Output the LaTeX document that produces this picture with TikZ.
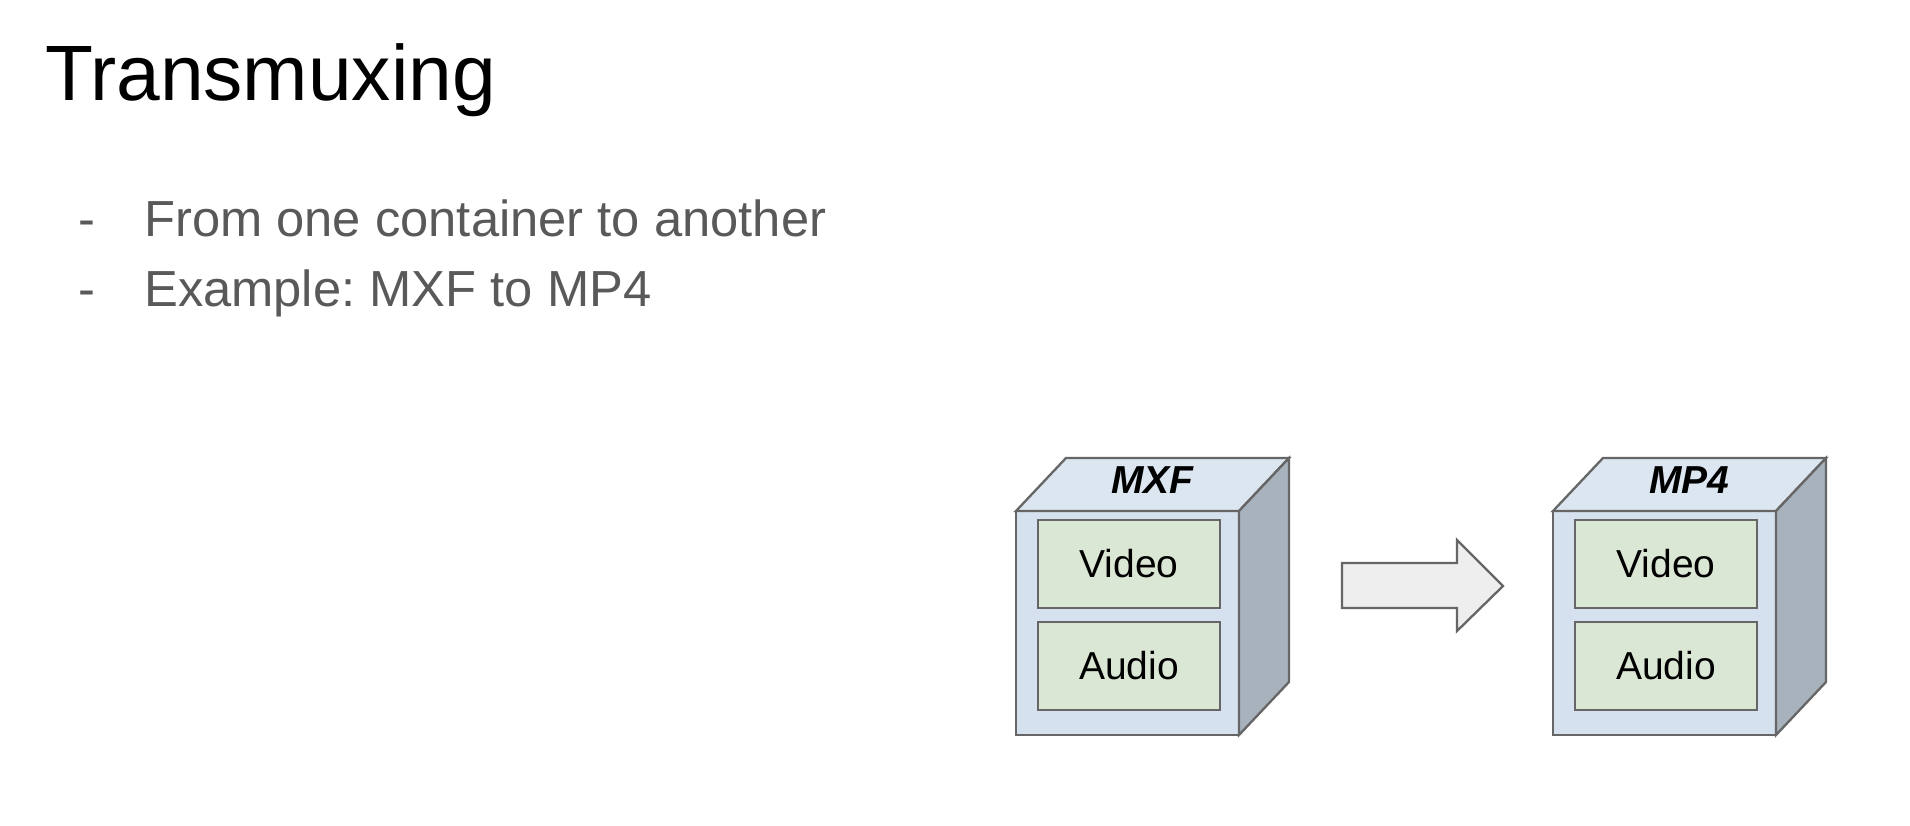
\documentclass[tikz,border=0pt]{standalone}
\usepackage{fontspec}
\setmainfont{Liberation Sans}
\frenchspacing
\definecolor{linegray}{HTML}{666666}
\definecolor{frontblue}{HTML}{D5E1EE}
\definecolor{topblue}{HTML}{DCE6F1}
\definecolor{sidegray}{HTML}{A8B2BC}
\definecolor{trackgreen}{HTML}{DBE7D5}
\definecolor{arrowfill}{HTML}{EEEEEE}
\definecolor{bodygray}{HTML}{595959}
\newcommand\mycube[4]{%
  \path[frontface] (#1,#2) rectangle ++(223,224);
  \path[topface] (#1,#2) -- ++(50,-53) -- ++(223,0) -- ++(-50,53) -- cycle;
  \path[sideface] (#1+223,#2) -- ++(50,-53) -- ++(0,224) -- ++(-50,53) -- cycle;
  \node[cubelabel, anchor=base] (#3-name) at (#1+136.5,#2-18) {#4};
  \node[track, anchor=north west] (#3-v) at (#1+22,#2+9) {Video};
  \node[track, anchor=north west] (#3-a) at (#1+22,#2+111) {Audio};
}
\begin{document}
\begin{tikzpicture}[x=1pt,y=-1pt,
  edge/.style={draw=linegray, line width=2.3pt, line join=miter},
  frontface/.style={edge, fill=frontblue},
  topface/.style={edge, fill=topblue},
  sideface/.style={edge, fill=sidegray},
  track/.style={draw=linegray, line width=2.3pt, fill=trackgreen, inner sep=0pt, outer sep=0pt,
    minimum width=182pt, minimum height=88pt, font=\fontsize{39}{46}\selectfont},
  cubelabel/.style={inner sep=0pt, font=\fontsize{39}{46}\selectfont\bfseries\itshape},
  blockarrow/.style={edge, fill=arrowfill},
  title/.style={inner sep=0pt, anchor=base west, font=\fontsize{78.5}{90}\selectfont},
  bullet/.style={inner sep=0pt, anchor=base west, text=bodygray, font=\fontsize{50.7}{60}\selectfont},
]
\useasboundingbox[fill=white] (0,0) rectangle (1910,826);

\node[title] (title) at (45,101) {Transmuxing};
\node[bullet] (d1) at (78,237) {-};
\node[bullet] (b1) at (144,237) {From one container to another};
\node[bullet] (d2) at (78,306) {-};
\node[bullet] (b2) at (144,306) {Example: MXF to MP4};

\mycube{1016}{511}{mxf}{MXF}
\mycube{1553}{511}{mp4}{MP4}

\path[blockarrow] (1342,563) -- (1457,563) -- (1457,540) -- (1503,586)
  -- (1457,631) -- (1457,608) -- (1342,608) -- cycle;
\end{tikzpicture}
\end{document}
